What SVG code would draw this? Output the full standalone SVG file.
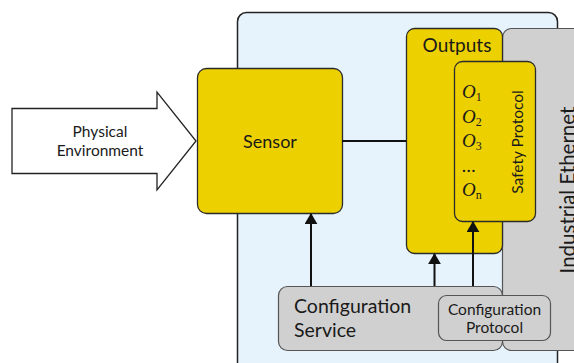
<svg xmlns="http://www.w3.org/2000/svg" width="574" height="363" viewBox="0 0 574 363">
  <defs>
    <style>
      .box { stroke: #2b2b2b; stroke-width: 1.3; }
      .yellow { fill: #edd000; }
      .gray { fill: #d0d0d0; stroke: #555; stroke-width: 1.2; }
      .label { font-family: Lato, "Open Sans", "Liberation Sans", sans-serif; fill: #1a1a1a; }
      .math { font-family: "Liberation Serif", "DejaVu Serif", serif; font-style: italic; fill: #1a1a1a; font-size: 19px; }
      .sub { font-family: "Liberation Serif", "DejaVu Serif", serif; font-style: normal; font-size: 12px; }
      .wire { stroke: #111; stroke-width: 2; fill: none; }
    </style>
    <marker id="tip" viewBox="0 0 12 14" refX="11" refY="7" markerWidth="11" markerHeight="13" markerUnits="userSpaceOnUse" orient="auto">
      <path d="M0,0 L12,7 L0,14 z" fill="#111"/>
    </marker>
  </defs>

  <!-- device enclosure -->
  <g id="device">
    <rect x="237.5" y="12.5" width="320" height="360" rx="9" fill="#e6f3fd" stroke="#222" stroke-width="1.5"/>
  </g>

  <!-- industrial ethernet bus -->
  <g id="industrial-ethernet">
    <rect x="502.5" y="28.5" width="100" height="322" rx="9" class="gray"/>
    <text class="label" font-size="20.5" transform="translate(575,190) rotate(-90)" text-anchor="middle">Industrial Ethernet</text>
  </g>

  <!-- physical environment input -->
  <g id="physical-environment">
    <path d="M12,108.5 L157,108.5 L157,92 L196,141 L157,190 L157,173.5 L12,173.5 Z" fill="#fff" stroke="#222" stroke-width="1.3"/>
    <text class="label" font-size="15.5" text-anchor="middle" x="100" y="137">Physical</text>
    <text class="label" font-size="15.5" text-anchor="middle" x="100" y="156">Environment</text>
  </g>

  <!-- sensor -->
  <g id="sensor">
    <rect x="197.5" y="68.5" width="145" height="145" rx="9" class="yellow box"/>
    <text class="label" font-size="18" text-anchor="middle" x="270" y="148">Sensor</text>
  </g>

  <!-- outputs -->
  <g id="outputs">
    <rect x="406.5" y="28.5" width="96" height="225" rx="8" class="yellow box"/>
    <text class="label" font-size="19" text-anchor="middle" x="457" y="52">Outputs</text>
  </g>

  <!-- safety protocol -->
  <g id="safety-protocol">
    <rect x="454.5" y="61.5" width="81" height="160" rx="8" class="yellow box"/>
    <text class="math" x="462" y="98">O<tspan class="sub" dy="3">1</tspan></text>
    <text class="math" x="462" y="123">O<tspan class="sub" dy="3">2</tspan></text>
    <text class="math" x="462" y="147">O<tspan class="sub" dy="3">3</tspan></text>
    <text class="math" x="462" y="172" font-style="normal">...</text>
    <text class="math" x="462" y="196">O<tspan class="sub" dy="3" font-style="italic">n</tspan></text>
    <text class="label" font-size="15.5" text-anchor="middle" transform="translate(523,142) rotate(-90)">Safety Protocol</text>
  </g>

  <!-- configuration service -->
  <g id="configuration-service">
    <rect x="278.5" y="286.5" width="224" height="64" rx="9" class="gray"/>
    <text class="label" font-size="19.5" x="294" y="313">Configuration</text>
    <text class="label" font-size="19.5" x="294" y="337">Service</text>
  </g>

  <!-- configuration protocol -->
  <g id="configuration-protocol">
    <rect x="438.5" y="295.5" width="112" height="45" rx="8" class="gray"/>
    <text class="label" font-size="15.5" text-anchor="middle" x="494.5" y="315">Configuration</text>
    <text class="label" font-size="15.5" text-anchor="middle" x="494.5" y="333">Protocol</text>
  </g>

  <!-- connectors -->
  <g id="connectors">
    <line class="wire" x1="342" y1="141" x2="406" y2="141"/>
    <line class="wire" x1="311" y1="286" x2="311" y2="214" marker-end="url(#tip)"/>
    <line class="wire" x1="434.5" y1="286" x2="434.5" y2="254" marker-end="url(#tip)"/>
    <line class="wire" x1="473" y1="286" x2="473" y2="222" marker-end="url(#tip)"/>
  </g>
</svg>
